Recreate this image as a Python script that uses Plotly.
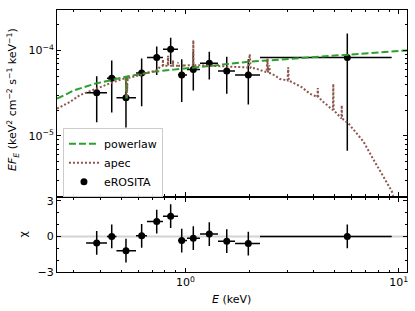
import plotly.graph_objects as go

# ---------------- data ----------------
# eROSITA spectral points
energy = [0.3835, 0.451, 0.526, 0.623, 0.733, 0.852, 0.960, 1.088, 1.293, 1.561, 1.970, 5.735]
energy_lo = [0.342, 0.4285, 0.4745, 0.586, 0.660, 0.784, 0.922, 1.016, 1.169, 1.420, 1.707, 2.235]
energy_hi = [0.4285, 0.4745, 0.586, 0.660, 0.784, 0.922, 1.016, 1.169, 1.420, 1.707, 2.235, 9.26]
flux = [3.19e-5, 4.72e-5, 2.79e-5, 5.44e-5, 8.26e-5, 1.03e-4, 5.15e-5, 5.95e-5, 7.04e-5, 5.73e-5, 5.15e-5, 8.26e-5]
flux_lo = [1.44e-5, 1.87e-5, 1.25e-5, 2.22e-5, 5.15e-5, 6.91e-5, 2.49e-5, 3.40e-5, 4.56e-5, 3.11e-5, 2.32e-5, 6.71e-6]
flux_hi = [4.98e-5, 7.62e-5, 4.36e-5, 8.04e-5, 1.106e-4, 1.406e-4, 7.89e-5, 9.61e-5, 9.61e-5, 8.41e-5, 7.89e-5, 1.577e-4]
chi = [-0.55, 0.0, -1.2, 0.05, 1.25, 1.7, -0.35, -0.15, 0.2, -0.4, -0.6, 0.0]
chi_err = [1.0] * 12

# powerlaw model
pl_energy = [0.25, 0.30, 0.375, 0.465, 0.524, 0.528, 0.531, 0.535, 0.58, 0.72, 0.88, 1.30, 2.0, 3.1, 5.7, 11.0]
pl_flux = [2.72e-5, 3.40e-5, 4.06e-5, 4.63e-5, 4.90e-5, 2.80e-5, 2.80e-5, 4.95e-5, 5.15e-5, 5.64e-5, 5.95e-5,
           6.62e-5, 7.36e-5, 7.95e-5, 8.85e-5, 1.0e-4]

# apec model
apec_energy = [0.25, 0.287, 0.32, 0.397, 0.457, 0.522, 0.527, 0.530, 0.534, 0.56, 0.62, 0.68, 0.735,
               0.759, 0.782, 0.784, 0.786, 0.826, 0.828, 0.830, 0.872, 0.874, 0.876, 0.920, 0.922, 0.924,
               0.971, 0.973, 0.975, 1.02, 1.086, 1.088, 1.090, 1.17, 1.35, 1.55, 1.8, 1.98, 2.0, 2.02,
               2.12, 2.40, 2.42, 2.44, 2.47, 2.49, 2.63, 2.77, 3.01, 3.03, 3.05, 3.5, 3.83, 4.15, 4.17,
               4.19, 4.43, 4.91, 4.93, 4.95, 5.38, 5.40, 5.42, 5.8, 6.35, 6.82, 7.6, 8.46, 9.26, 9.45, 10.5]
apec_flux = [2.08e-5, 2.49e-5, 3.0e-5, 3.72e-5, 4.24e-5, 4.72e-5, 4.72e-5, 2.80e-5, 4.75e-5, 4.85e-5,
             5.25e-5, 5.54e-5, 5.84e-5, 6.4e-5, 6.6e-5, 7.83e-5, 6.6e-5, 6.62e-5, 8.64e-5, 6.62e-5,
             6.62e-5, 7.62e-5, 6.62e-5, 6.62e-5, 7.22e-5, 6.62e-5, 6.62e-5, 6.85e-5, 6.62e-5, 6.7e-5,
             6.7e-5, 1.31e-4, 6.7e-5, 6.7e-5, 6.6e-5, 6.5e-5, 6.4e-5, 6.3e-5, 9.0e-5, 6.2e-5, 6.16e-5,
             5.54e-5, 8.0e-5, 5.5e-5, 6.67e-5, 5.4e-5, 5.07e-5, 4.63e-5, 4.44e-5, 6.33e-5, 4.44e-5,
             3.72e-5, 3.11e-5, 2.85e-5, 3.62e-5, 2.85e-5, 2.49e-5, 2.0e-5, 4.06e-5, 2.0e-5, 1.6e-5,
             2.28e-5, 1.6e-5, 1.4e-5, 1.07e-5, 8.6e-6, 5.3e-6, 3.4e-6, 2.27e-6, 1.9e-6, 1.1e-6]

# tick labels
x_tickvals = [1, 10]
x_ticktext = ["10<sup>0</sup>", "10<sup>1</sup>"]
y_tickvals = [1e-5, 1e-4]
y_ticktext = ["10<sup>\u22125</sup>", "10<sup>\u22124</sup>"]
chi_tickvals = [-3, 0, 3]
chi_ticktext = ["\u22123", "0", "3"]

# ---------------- figure ----------------
ex_plus = [h - e for h, e in zip(energy_hi, energy)]
ex_minus = [e - l for e, l in zip(energy, energy_lo)]
ey_plus = [h - f for h, f in zip(flux_hi, flux)]
ey_minus = [f - l for f, l in zip(flux, flux_lo)]

FONT = "DejaVu Sans"
fig = go.Figure()

fig.add_trace(go.Scatter(
    x=energy, y=flux, mode="markers", name="eROSITA", legendrank=3,
    marker=dict(color="black", size=7),
    error_x=dict(type="data", array=ex_plus, arrayminus=ex_minus, color="black", thickness=1.5, width=0),
    error_y=dict(type="data", array=ey_plus, arrayminus=ey_minus, color="black", thickness=1.5, width=0),
    xaxis="x", yaxis="y"))
fig.add_trace(go.Scatter(
    x=pl_energy, y=pl_flux, mode="lines", name="powerlaw", legendrank=1,
    line=dict(color="#2ca02c", width=2, dash="7px,3px"), xaxis="x", yaxis="y"))
fig.add_trace(go.Scatter(
    x=apec_energy, y=apec_flux, mode="lines", name="apec", legendrank=2,
    line=dict(color="#8c564b", width=2, dash="2px,2px"), xaxis="x", yaxis="y"))

fig.add_trace(go.Scatter(
    x=energy, y=chi, mode="markers", showlegend=False,
    marker=dict(color="black", size=7),
    error_x=dict(type="data", array=ex_plus, arrayminus=ex_minus, color="black", thickness=1.5, width=0),
    error_y=dict(type="data", array=chi_err, color="black", thickness=1.5, width=0),
    xaxis="x2", yaxis="y2"))

x_minor = [0.3, 0.4, 0.5, 0.6, 0.7, 0.8, 0.9, 2, 3, 4, 5, 6, 7, 8, 9]
y_minor = [2e-6, 3e-6, 4e-6, 5e-6, 6e-6, 7e-6, 8e-6, 9e-6, 2e-5, 3e-5, 4e-5, 5e-5, 6e-5, 7e-5, 8e-5, 9e-5,
           2e-4, 3e-4]

common_axis = dict(showline=True, linecolor="black", linewidth=1, mirror="allticks", ticks="inside",
                   ticklen=4, tickwidth=1, tickcolor="black", showgrid=False, zeroline=False,
                   tickfont=dict(family=FONT, size=11, color="black"))

fig.update_layout(
    width=415, height=311,
    margin=dict(l=57, r=8, t=7, b=39),
    paper_bgcolor="white", plot_bgcolor="white",
    font=dict(family=FONT, size=11, color="black"),
    xaxis=dict(type="log", range=[-0.6024, 1.0384], domain=[0, 1], anchor="y",
               tickmode="array", tickvals=x_tickvals, ticktext=x_ticktext, showticklabels=False,
               minor=dict(tickmode="array", tickvals=x_minor, ticks="inside", ticklen=2,
                          tickcolor="black", showgrid=False),
               **common_axis),
    yaxis=dict(type="log", range=[-5.7017, -3.5283], domain=[0.2906, 1], anchor="x",
               tickmode="array", tickvals=y_tickvals, ticktext=y_ticktext,
               minor=dict(tickmode="array", tickvals=y_minor, ticks="inside", ticklen=2,
                          tickcolor="black", showgrid=False),
               **common_axis),
    xaxis2=dict(type="log", range=[-0.6024, 1.0384], domain=[0, 1], anchor="y2",
                tickmode="array", tickvals=x_tickvals, ticktext=x_ticktext,
                minor=dict(tickmode="array", tickvals=x_minor, ticks="inside", ticklen=2,
                           tickcolor="black", showgrid=False),
                **common_axis),
    yaxis2=dict(range=[-3, 3.25], domain=[0, 0.283], anchor="x2",
                tickmode="array", tickvals=chi_tickvals, ticktext=chi_ticktext,
                minor=dict(tickmode="array", tickvals=[-2, -1, 1, 2], ticks="inside", ticklen=2,
                           tickcolor="black", showgrid=False),
                **common_axis),
    legend=dict(x=0.017, y=0.285, xanchor="left", yanchor="bottom",
                bgcolor="rgba(255,255,255,0.9)", bordercolor="#cccccc", borderwidth=1,
                font=dict(family=FONT, size=11, color="black"), tracegroupgap=0),
    shapes=[dict(type="line", xref="x2 domain", yref="y2", x0=0, x1=1, y0=0, y1=0,
                 line=dict(color="#d3d3d3", width=2), layer="below")],
    annotations=[
        dict(text="<i>EF</i><sub><i>E</i></sub> (keV<sup>2</sup> cm<sup>\u22122</sup> s<sup>\u22121</sup> keV<sup>\u22121</sup>)",
             xref="paper", yref="paper", x=-0.126, y=0.66, textangle=-90, showarrow=False,
             font=dict(family=FONT, size=11, color="black"), xanchor="center", yanchor="middle"),
        dict(text="\u03c7", xref="paper", yref="paper", x=-0.097, y=0.143, textangle=-90,
             showarrow=False, font=dict(family=FONT, size=11, color="black"),
             xanchor="center", yanchor="middle"),
        dict(text="<i>E</i> (keV)", xref="paper", yref="paper", x=0.499, y=-0.106, showarrow=False,
             font=dict(family=FONT, size=11, color="black"), xanchor="center", yanchor="middle"),
    ],
)

fig.write_html("out.html", config={"displayModeBar": False},
               post_script="document.body.style.margin='0px';")
